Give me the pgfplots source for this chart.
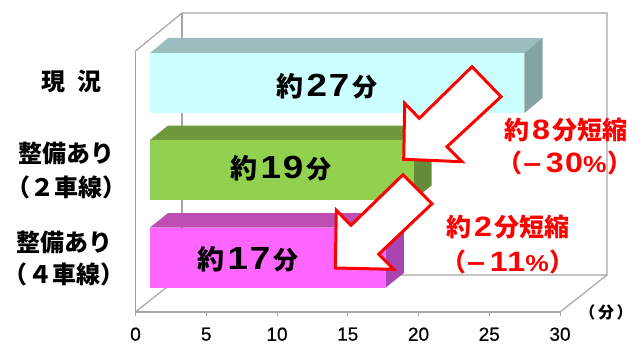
\documentclass[border=0pt]{standalone}
\usepackage{fontspec}
\usepackage{pgfplots}
\pgfplotsset{compat=1.18}
\setmainfont{Liberation Sans}
\newfontfamily\jp{Noto Sans CJK JP}
\newfontfamily\lat[LetterSpace=5,FakeStretch=1.15]{Liberation Sans}
\newfontfamily\latm[FakeBold=0.5]{Liberation Sans}
\definecolor{wall}{HTML}{A6A6A6}
\definecolor{redmark}{HTML}{FF0000}
\newcommand{\jb}[1]{\fontsize{#1}{#1}\selectfont\jp\bfseries}
\newcommand{\lb}[1]{\fontsize{#1}{#1}\selectfont\lat\bfseries}
\begin{document}
\begin{tikzpicture}
\path[use as bounding box] (0pt,0pt) rectangle (644pt,345pt);

% back wall and floor of the 3-D frame
\begin{scope}[x=1pt,y=-1pt,yshift=345pt]
\draw[wall,line width=1.2pt] (135.5,51) -- (182,13) -- (607,13) -- (607,275) -- (182,275) -- (135.5,312);
\draw[wall,line width=1.2pt] (182,13) -- (182,275);
\draw[wall,line width=1.2pt] (560,312) -- (607,275);
\end{scope}

% front plane with the minutes scale
\begin{axis}[
  at={(347.75pt,163.5pt)}, anchor=center,
  scale only axis, width=424.5pt, height=261pt,
  xmin=0, xmax=30, ymin=0, ymax=1,
  axis x line*=bottom, axis y line*=left,
  axis line style={wall,line width=1.2pt,-},
  xtick={0,5,...,30}, ytick=\empty,
  tick style={wall,line width=1pt},
  tick align=outside, major tick length=4pt,
  /pgf/number format/assume math mode=true,
  xticklabel style={font=\fontsize{19}{19}\selectfont\latm, yshift=-8pt, text depth=0pt},
]
\end{axis}

% bars: front face, top face and side face, in minutes across and pixels down
\begin{axis}[
  at={(322pt,172.5pt)}, anchor=center,
  scale only axis, width=644pt, height=345pt,
  hide axis, clip=false,
  xmin=-10.815, xmax=35.617,
  ymin=0, ymax=345, y dir=reverse,
  no markers,
]
% current situation
\addplot[fill={rgb,255:red,155;green,189;blue,189}, draw=none] coordinates {(0,53)(27,53)(28.3,38)(1.3,38)};
\addplot[fill={rgb,255:red,133;green,163;blue,163}, draw=none] coordinates {(27,53)(28.3,38)(28.3,98)(27,113)};
\addplot[fill={rgb,255:red,204;green,255;blue,255}, draw=none] coordinates {(0,53)(27,53)(27,113)(0,113)};
% with improvement, two lanes
\addplot[fill={rgb,255:red,112;green,152;blue,60}, draw=none] coordinates {(0,140)(19,140)(20.3,125.5)(1.3,125.5)};
\addplot[fill={rgb,255:red,100;green,140;blue,56}, draw=none] coordinates {(19,140)(20.3,125.5)(20.3,185.5)(19,200)};
\addplot[fill={rgb,255:red,146;green,208;blue,80}, draw=none] coordinates {(0,140)(19,140)(19,200)(0,200)};
% with improvement, four lanes
\addplot[fill={rgb,255:red,190;green,77;blue,180}, draw=none] coordinates {(0,227.5)(17,227.5)(18.3,213)(1.3,213)};
\addplot[fill={rgb,255:red,168;green,69;blue,176}, draw=none] coordinates {(17,227.5)(18.3,213)(18.3,273)(17,287.5)};
\addplot[fill={rgb,255:red,255;green,102;blue,255}, draw=none] coordinates {(0,227.5)(17,227.5)(17,287.5)(0,287.5)};
\end{axis}

\begin{scope}[x=1pt,y=-1pt,yshift=345pt]
% reduction arrows
\draw[redmark,fill=white,line width=3pt,line join=miter,miter limit=6]
  (472,66.7) -- (501,96.7) -- (447,146.7) -- (462,161.7) -- (403.7,159.3) -- (404.7,103.3) -- (419.3,118.3) -- cycle;
\draw[redmark,fill=white,line width=3pt,line join=miter,miter limit=6]
  (403,174.7) -- (432,203.7) -- (378.7,254.3) -- (393.7,269.3) -- (335.3,268) -- (336.3,210.3) -- (351,225.3) -- cycle;

% category labels
\node[font=\jb{24}] at (71,81) {現\hspace{12pt}況};
\node[font=\jb{24}] at (66,153) {整備あり};
\node[font=\jb{24}] at (66.5,187) {（２車線）};
\node[font=\jb{24}] at (64.5,242) {整備あり};
\node[font=\jb{24}] at (64,274) {（４車線）};

% values on the bars
\node[inner sep=0pt] at (327,86) {{\jb{27}約}{\lb{32}\kern3pt 27\kern3pt}{\jb{25}分}};
\node[inner sep=0pt] at (281,168) {{\jb{27}約}{\lb{32}\kern3pt 19\kern3pt}{\jb{25}分}};
\node[inner sep=0pt] at (248,259) {{\jb{27}約}{\lb{32}\kern3pt 17\kern3pt}{\jb{25}分}};

% reduction captions
\node[text=redmark,inner sep=0pt] at (566,130) {{\jb{25}約}{\lb{28}\kern3pt 8\kern3pt}{\jb{25}分短縮}};
\node[text=redmark,inner sep=0pt] at (565,163) {{\jb{25}（}\hspace{1pt}{\lb{28}–\,30}{\lb{23}\%}\hspace{1pt}{\jb{25}）}};
\node[text=redmark,inner sep=0pt] at (508,227) {{\jb{25}約}{\lb{28}\kern3pt 2\kern3pt}{\jb{25}分短縮}};
\node[text=redmark,inner sep=0pt] at (508,262) {{\jb{25}（}\hspace{1pt}{\lb{28}–\,11}{\lb{23}\%}\hspace{1pt}{\jb{25}）}};

% unit of the scale
\node[font=\jb{16}] at (606,312) {（\,分\,）};
\end{scope}
\end{tikzpicture}
\end{document}
